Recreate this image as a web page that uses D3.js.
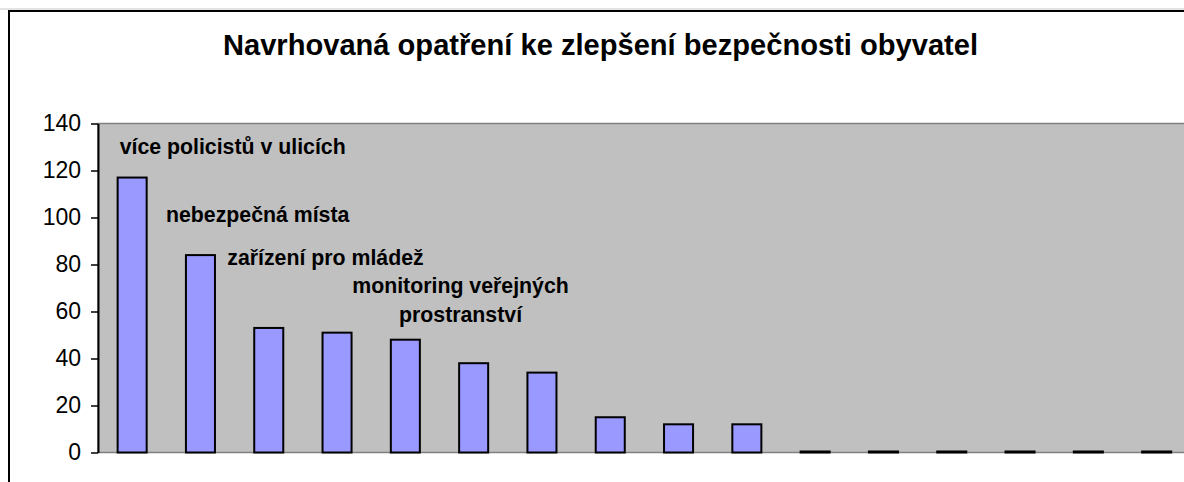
<!DOCTYPE html>
<html>
<head>
<meta charset="utf-8">
<script src="https://cdn.jsdelivr.net/npm/d3@7"></script>
<style>
  html, body { margin: 0; padding: 0; background: #fff; overflow: hidden; }
  svg { display: block; }
  text { font-family: Arial, "Liberation Sans", sans-serif; fill: #000; }
</style>
</head>
<body>
<svg id="chart" width="1184" height="482"></svg>
<script>
// ---- data ----
const title = "Navrhovaná opatření ke zlepšení bezpečnosti obyvatel";
const categories = ["c1","c2","c3","c4","c5","c6","c7","c8","c9","c10","c11","c12","c13","c14","c15","c16"];
const values = [117, 84, 53, 51, 48, 38, 34, 15, 12, 12, 0, 0, 0, 0, 0, 0];
const yTicks = [0, 20, 40, 60, 80, 100, 120, 140];
const annotationLines = [
  ["více policistů v ulicích"],
  ["nebezpečná místa"],
  ["zařízení pro mládež"],
  ["monitoring veřejných", "prostranství"]
];

// ---- layout ----
const W = 1184, H = 482;
const plot = { left: 98, top: 123.5, bottom: 452.5 };
const step = 68.3;
const svg = d3.select("#chart");

// outer chart border (extends past right/bottom edge)
svg.append("line")
  .attr("x1", 0).attr("x2", W).attr("y1", 9).attr("y2", 9)
  .attr("stroke", "#c8c8c8").attr("stroke-width", 1);
svg.append("rect")
  .attr("x", 9).attr("y", 11)
  .attr("width", W + 20).attr("height", H + 20)
  .attr("fill", "#fff").attr("stroke", "#000").attr("stroke-width", 2);

const x = d3.scaleBand()
  .domain(categories)
  .range([plot.left, plot.left + step * categories.length])
  .paddingInner(0.575)
  .paddingOuter(0.2875);

const y = d3.scaleLinear()
  .domain([0, 140])
  .range([plot.bottom, plot.top]);

// plot area
svg.append("rect")
  .attr("x", plot.left).attr("y", plot.top)
  .attr("width", W - plot.left + 20).attr("height", plot.bottom - plot.top)
  .attr("fill", "#C0C0C0").attr("stroke", "#808080").attr("stroke-width", 1.5);

// title
svg.append("text")
  .attr("x", 600.5).attr("y", 55)
  .attr("text-anchor", "middle")
  .attr("font-weight", "bold")
  .attr("font-size", "29.1px")
  .text(title);

// bars (zero values still show as a flat outlined bar)
svg.append("g").selectAll("rect")
  .data(values)
  .join("rect")
  .attr("x", (d, i) => x(categories[i]))
  .attr("width", x.bandwidth())
  .attr("y", d => Math.min(y(d), y(0) - 1))
  .attr("height", d => Math.max(y(0) - y(d), 1))
  .attr("fill", "#9999FF")
  .attr("stroke", "#000")
  .attr("stroke-width", 2);

// y axis
const yAxis = d3.axisLeft(y)
  .tickValues(yTicks)
  .tickSize(7)
  .tickPadding(10)
  .tickSizeOuter(0);
const gy = svg.append("g")
  .attr("transform", `translate(${plot.left},0)`)
  .call(yAxis);
gy.select(".domain").attr("stroke", "#000").attr("stroke-width", 2);
gy.selectAll(".tick line").attr("stroke", "#000").attr("stroke-width", 1.5);
gy.selectAll(".tick text")
  .attr("font-family", "Arial, 'Liberation Sans', sans-serif")
  .attr("font-size", "23px")
  .attr("fill", "#000");

// annotations (positioned relative to scales)
const annoPos = [
  { band: 0, dx: 2, v: 127.2, anchor: "start" },
  { band: 1, dx: -20, v: 98.2, anchor: "start" },
  { band: 2, dx: -27, v: 79.9, anchor: "start" },
  { band: 4, dx: 69.7, v: 68, anchor: "middle", lineGap: 12.4 }
];
const ag = svg.append("g");
annotationLines.forEach((lines, i) => {
  const p = annoPos[i];
  lines.forEach((t, j) => {
    ag.append("text")
      .attr("x", x(categories[p.band]) + p.dx)
      .attr("y", y(p.v - j * (p.lineGap || 0)))
      .attr("text-anchor", p.anchor)
      .attr("font-weight", "bold")
      .attr("font-size", "21.3px")
      .text(t);
  });
});
</script>
</body>
</html>
